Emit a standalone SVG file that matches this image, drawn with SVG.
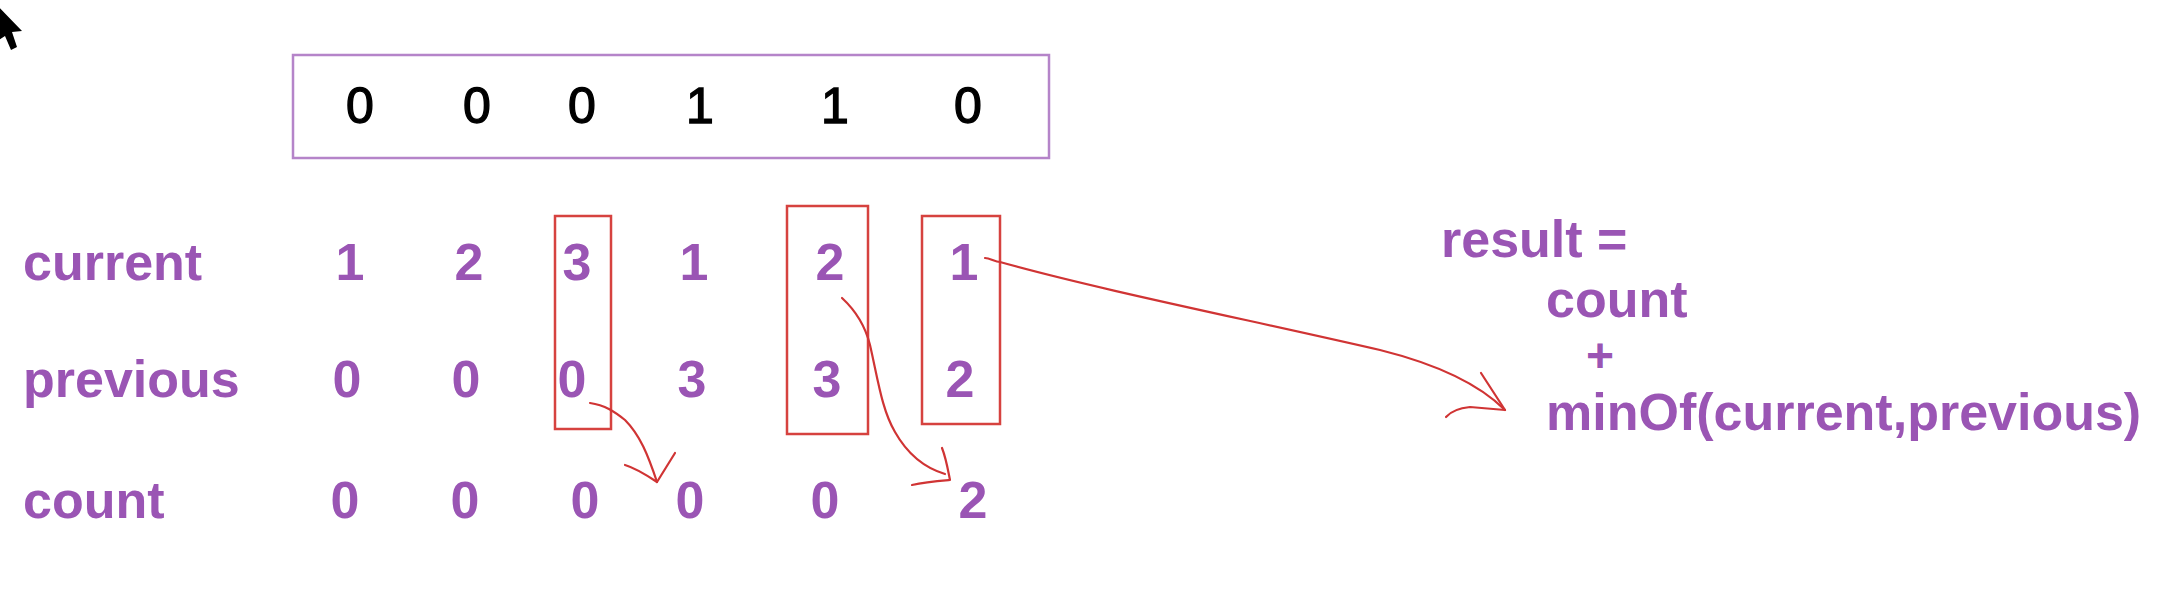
<svg xmlns="http://www.w3.org/2000/svg" width="2164" height="600" viewBox="0 0 2164 600">
<style>
.lbl{font-family:"Liberation Sans",Arial,sans-serif;font-weight:bold;font-size:52px;fill:#9a55b4}
.num{font-family:"Liberation Sans",Arial,sans-serif;font-weight:bold;font-size:52px;fill:#9a55b4;text-anchor:middle}
.bit{font-family:"Liberation Sans",Arial,sans-serif;font-size:50px;fill:#000;stroke:#000;stroke-width:1.4;text-anchor:middle}
.rbox{fill:none;stroke:#d6423f;stroke-width:2.5}
.arr{fill:none;stroke:#d03434;stroke-width:2.2;stroke-linecap:round;stroke-linejoin:round}
</style>
<rect width="2164" height="600" fill="#fff"/>
<g id="cursor"><polygon points="-10,-2 22,31 12,32 17,47 11,50 5,36 -10,46" fill="#000"/></g>
<g id="array">
<rect x="293" y="55" width="756" height="103" fill="none" stroke="#b584c9" stroke-width="2.5"/>
<text class="bit" x="360" y="123">0</text>
<text class="bit" x="477" y="123">0</text>
<text class="bit" x="582" y="123">0</text>
<text class="bit" x="700" y="123">1</text>
<text class="bit" x="835" y="123">1</text>
<text class="bit" x="968" y="123">0</text>
</g>
<g id="row-current">
<text class="lbl" x="23" y="280">current</text>
<text class="num" x="350" y="280">1</text>
<text class="num" x="469" y="280">2</text>
<text class="num" x="577" y="280">3</text>
<text class="num" x="694" y="280">1</text>
<text class="num" x="830" y="280">2</text>
<text class="num" x="964" y="280">1</text>
</g>
<g id="row-previous">
<text class="lbl" x="23" y="397">previous</text>
<text class="num" x="347" y="397">0</text>
<text class="num" x="466" y="397">0</text>
<text class="num" x="572" y="397">0</text>
<text class="num" x="692" y="397">3</text>
<text class="num" x="827" y="397">3</text>
<text class="num" x="960" y="397">2</text>
</g>
<g id="row-count">
<text class="lbl" x="23" y="518">count</text>
<text class="num" x="345" y="518">0</text>
<text class="num" x="465" y="518">0</text>
<text class="num" x="585" y="518">0</text>
<text class="num" x="690" y="518">0</text>
<text class="num" x="825" y="518">0</text>
<text class="num" x="973" y="518">2</text>
</g>
<g id="highlights">
<rect class="rbox" x="555" y="216" width="56" height="213"/>
<rect class="rbox" x="787" y="206" width="81" height="228"/>
<rect class="rbox" x="922" y="216" width="78" height="208"/>
</g>
<g id="formula">
<text class="lbl" x="1441" y="257">result =</text>
<text class="lbl" x="1546" y="317">count</text>
<text class="num" x="1600" y="372" style="font-size:48px">+</text>
<text class="lbl" x="1546" y="430">minOf(current,previous)</text>
</g>
<g id="connectors">
<path class="arr" d="M590,403 C605,405 615,412 625,420 C640,435 648,455 657,482"/>
<path class="arr" d="M625,465 C635,468 645,474 657,482 L675,453"/>
<path class="arr" d="M842,298 C855,310 865,325 870,345 C878,380 882,410 895,432 C908,455 925,468 945,474"/>
<path class="arr" d="M942,448 C946,458 948,470 950,480 C938,481 925,482 912,485"/>
<path class="arr" d="M985,258 C990,258 995,262 1000,262 C1100,290 1250,320 1380,350 C1440,365 1480,385 1505,410"/>
<path class="arr" d="M1481,373 L1505,410 L1470,407 C1460,408 1452,410 1446,417"/>
</g>
</svg>
